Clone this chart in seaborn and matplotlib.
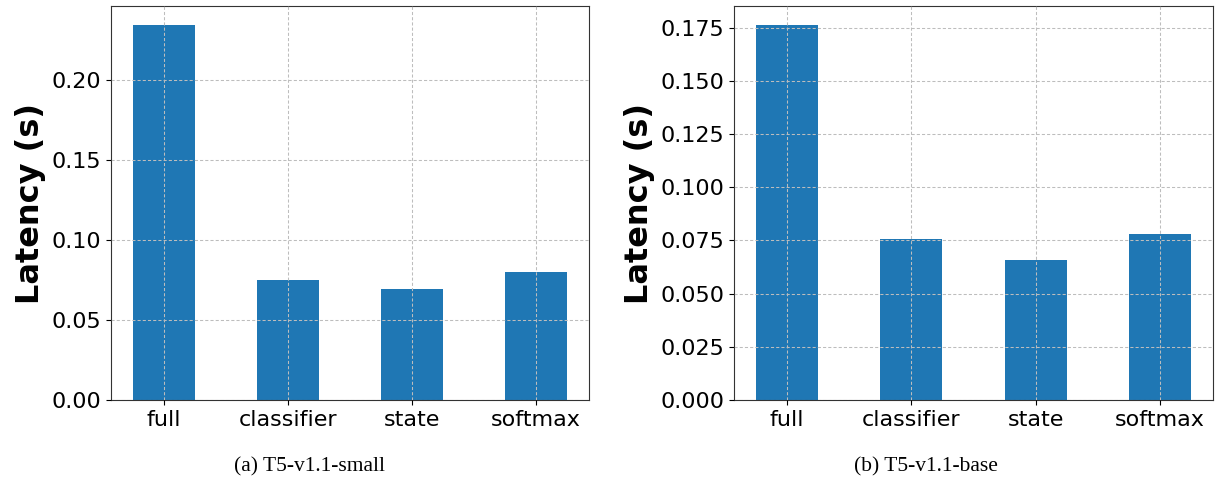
import pandas as pd
import matplotlib
matplotlib.use("Agg")
import matplotlib.pyplot as plt
import seaborn as sns

# latency per variant
variants = ["full", "classifier", "state", "softmax"]
small_latency = [0.2345, 0.0751, 0.0693, 0.0801]
base_latency = [0.1764, 0.0758, 0.0660, 0.0780]
captions = ["(a) T5-v1.1-small", "(b) T5-v1.1-base"]

sns.set_style("ticks")
plt.rcParams["font.family"] = ["DejaVu Sans"]
plt.rcParams["axes.labelcolor"] = "black"
plt.rcParams["text.color"] = "black"

fig = plt.figure(figsize=(12.15, 4.82), dpi=100)
ax1 = fig.add_axes([111 / 1215, 82 / 482, 478 / 1215, 394 / 482])
ax2 = fig.add_axes([734 / 1215, 82 / 482, 479 / 1215, 394 / 482])

for ax, vals, cap, cx in [(ax1, small_latency, captions[0], 310),
                          (ax2, base_latency, captions[1], 926)]:
    df = pd.DataFrame({"variant": variants, "latency": vals})
    sns.barplot(data=df, x="variant", y="latency", ax=ax, color="#1f77b4",
                saturation=1, width=0.5, edgecolor="none")
    ax.set_xlim(-0.425, len(variants) - 0.575)
    ax.set_ylim(0, max(vals) * 1.05)
    ax.set_xlabel("")
    ax.set_ylabel("Latency (s)", fontsize=23, fontweight="bold")
    ax.tick_params(labelsize=16, colors="black")
    ax.grid(True, linestyle=(0, (3, 2)), color="#bdbdbd", linewidth=0.75)
    ax.set_axisbelow(False)
    for s in ax.spines.values():
        s.set_color("#333333")
    fig.text(cx / 1215, 1 - 467 / 482, cap, ha="center", va="center",
             fontsize=15.5, family=["Liberation Serif", "DejaVu Serif"])

ax1.yaxis.set_major_formatter(matplotlib.ticker.FormatStrFormatter("%.2f"))
ax2.yaxis.set_major_formatter(matplotlib.ticker.FormatStrFormatter("%.3f"))

fig.savefig("out.png", dpi=100)
